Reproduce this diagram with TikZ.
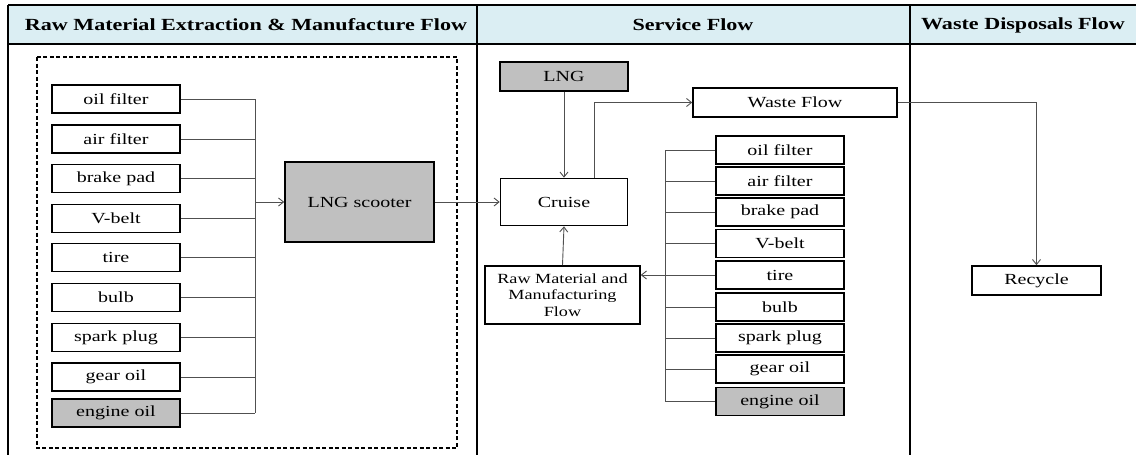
\documentclass[tikz,border=0pt]{standalone}
\usepackage{fontspec}
\setmainfont[FakeStretch=1.3]{Liberation Serif}
\usetikzlibrary{arrows.meta}
\definecolor{hdr}{HTML}{DBEEF3}
\definecolor{boxgray}{HTML}{C0C0C0}
\definecolor{linegray}{HTML}{505050}
\begin{document}
\begin{tikzpicture}[x=1pt,y=-1pt,
  box/.style={draw=black, line width=1.6pt, inner sep=0pt, align=center, font=\fontsize{15.4}{17}\selectfont},
  item/.style={box, minimum width=128, minimum height=28},
  grayfill/.style={fill=boxgray},
  conn/.style={draw=linegray, line width=0.9pt},
  arr/.style={conn, -{Straight Barb[length=5pt,width=8pt,line width=0.9pt]}},
  frameline/.style={draw=black, line width=1.8pt},
  hdrtext/.style={font=\fontsize{17}{19}\selectfont\bfseries}
]
\useasboundingbox (0,0) rectangle (1136,455);
% header band and frame
\fill[hdr] (8,5) rectangle (1136,44);
\draw[frameline] (8,5) -- (1136,5);
\draw[frameline] (8,44) -- (1136,44);
\draw[frameline] (8,5) -- (8,455);
\draw[frameline] (477,5) -- (477,455);
\draw[frameline] (910,5) -- (910,455);
\node[hdrtext] (h1) at (246,25) {Raw Material Extraction \& Manufacture Flow};
\node[hdrtext] (h2) at (693,25) {Service Flow};
\node[hdrtext] (h3) at (1023,25) {Waste Disposals Flow};
% dashed group
\draw[black, line width=1.3pt, dash pattern=on 4pt off 2.5pt] (37,57) rectangle (457,448);
% left items
\node[item] (l1) at (116,99) {oil filter};
\node[item] (l2) at (116,139) {air filter};
\node[item] (l3) at (116,178.5) {brake pad};
\node[item] (l4) at (116,218.5) {V-belt};
\node[item] (l5) at (116,257.5) {tire};
\node[item] (l6) at (116,297.5) {bulb};
\node[item] (l7) at (116,337.5) {spark plug};
\node[item] (l8) at (116,377) {gear oil};
\node[item, grayfill] (l9) at (116,413) {engine oil};
\coordinate (busL) at (255,0);
\node[box, grayfill, minimum width=149, minimum height=80] (scooter) at (359.5,202) {LNG scooter};
% service column
\node[box, grayfill, minimum width=128, minimum height=29] (lng) at (564,76.5) {LNG};
\node[box, minimum width=127, minimum height=47] (cruise) at (564,202) {Cruise};
\node[box, minimum width=204, minimum height=29] (waste) at (795,102.5) {Waste Flow};
\node[box, minimum width=155, minimum height=58, font=\fontsize{14}{16.5}\selectfont] (raw) at (562.5,295) {Raw Material and\\Manufacturing\\Flow};
\node[item] (r1) at (780,150) {oil filter};
\node[item] (r2) at (780,181) {air filter};
\node[item] (r3) at (780,212) {brake pad};
\node[item] (r4) at (780,243.5) {V-belt};
\node[item] (r5) at (780,275) {tire};
\node[item] (r6) at (780,307) {bulb};
\node[item] (r7) at (780,338) {spark plug};
\node[item] (r8) at (780,369) {gear oil};
\node[item, grayfill] (r9) at (780,401.5) {engine oil};
\coordinate (busR) at (665,0);
% waste column
\node[box, minimum width=129, minimum height=29] (recycle) at (1036.5,280.5) {Recycle};
% left connectors
\foreach \i in {1,...,9} {\draw[conn] (l\i.east) -- (l\i.east -| busL);}
\draw[conn] (l1.east -| busL) -- (l9.east -| busL);
\draw[arr] (busL |- scooter.west) -- (scooter.west);
\draw[arr] (scooter.east) -- (cruise.west);
% service connectors
\draw[arr] (lng.south) -- (cruise.north);
\draw[arr] ([xshift=30pt]cruise.north) |- (waste.west);
\draw[arr] (waste.east) -| (recycle.north);
\foreach \i in {1,2,3,4,6,7,8,9} {\draw[conn] (r\i.west) -- (r\i.west -| busR);}
\draw[conn] (r1.west -| busR) -- (r9.west -| busR);
\draw[arr] (r5.west) -- (r5.west -| raw.east);
\draw[arr] (raw.north) -- (cruise.south);
\end{tikzpicture}
\end{document}
